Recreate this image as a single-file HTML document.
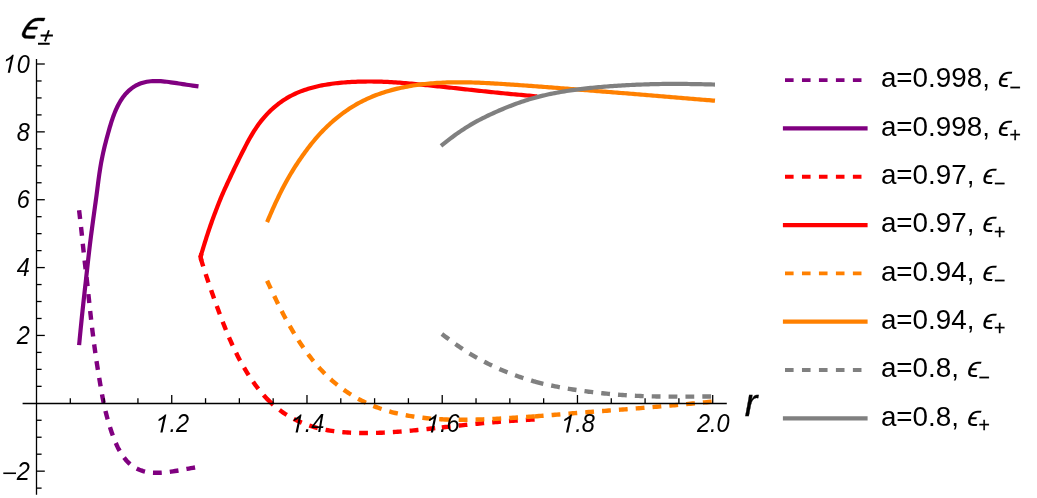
<!DOCTYPE html>
<html><head><meta charset="utf-8"><title>plot</title>
<style>
html,body{margin:0;padding:0;background:#fff;}
body{width:1037px;height:498px;overflow:hidden;font-family:"Liberation Sans",sans-serif;}
svg{display:block;will-change:transform;}
text{font-family:"Liberation Sans",sans-serif;fill:#000;}
.tk{font-size:25.0px;font-style:italic;}
.lg{font-size:27.8px;}
</style></head><body>
<svg width="1037" height="498" viewBox="0 0 1037 498">
<rect width="1037" height="498" fill="#fff"/>

<g fill="none" stroke-linejoin="round">
<path d="M79.10 210.30 L79.33 212.29 L79.57 214.29 L79.80 216.28 L80.03 218.28 L80.26 220.27 L80.49 222.27 L80.71 224.26 L80.94 226.26 L81.16 228.25 L81.38 230.25 L81.59 232.24 L81.81 234.24 L82.01 236.24 L82.22 238.23 L82.42 240.23 L82.63 242.22 L82.83 244.22 L83.04 246.22 L83.26 248.21 L83.47 250.20 L83.69 252.20 L83.91 254.19 L84.13 256.19 L84.35 258.18 L84.58 260.18 L84.80 262.17 L85.04 264.16 L85.27 266.16 L85.51 268.15 L85.75 270.14 L85.98 272.14 L86.21 274.13 L86.44 276.13 L86.66 278.12 L86.89 280.12 L87.10 282.11 L87.32 284.11 L87.53 286.10 L87.74 288.10 L87.94 290.09 L88.15 292.09 L88.36 294.09 L88.57 296.08 L88.78 298.08 L89.00 300.07 L89.21 302.07 L89.43 304.06 L89.64 306.06 L89.85 308.05 L90.07 310.05 L90.28 312.05 L90.50 314.04 L90.72 316.04 L90.95 318.03 L91.17 320.03 L91.40 322.02 L91.63 324.02 L91.87 326.01 L92.10 328.00 L92.34 330.00 L92.59 331.99 L92.84 333.98 L93.09 335.97 L93.34 337.96 L93.60 339.96 L93.85 341.95 L94.11 343.94 L94.38 345.93 L94.65 347.92 L94.92 349.90 L95.20 351.89 L95.48 353.88 L95.76 355.87 L96.05 357.86 L96.34 359.84 L96.63 361.83 L96.94 363.81 L97.24 365.79 L97.56 367.78 L97.87 369.76 L98.19 371.74 L98.51 373.73 L98.83 375.71 L99.16 377.69 L99.49 379.67 L99.82 381.65 L100.15 383.63 L100.49 385.61 L100.83 387.59 L101.17 389.57 L101.51 391.55 L101.86 393.52 L102.22 395.50 L102.59 397.47 L102.97 399.44 L103.36 401.41 L103.76 403.38 L104.18 405.34 L104.61 407.30 L105.06 409.26 L105.52 411.21 L106.01 413.16 L106.51 415.10 L107.02 417.04 L107.55 418.98 L108.10 420.91 L108.67 422.84 L109.24 424.77 L109.84 426.69 L110.44 428.61 L111.06 430.52 L111.70 432.43 L112.37 434.34 L113.05 436.23 L113.77 438.12 L114.51 440.00 L115.28 441.86 L116.09 443.72 L116.93 445.56 L117.80 447.38 L118.72 449.18 L119.69 450.95 L120.71 452.69 L121.78 454.40 L122.90 456.06 L124.08 457.68 L125.33 459.24 L126.63 460.75 L128.00 462.18 L129.44 463.54 L130.94 464.82 L132.51 466.00 L134.14 467.10 L135.83 468.09 L137.58 468.99 L139.38 469.78 L141.22 470.47 L143.11 471.07 L145.03 471.57 L146.97 471.97 L148.94 472.29 L150.93 472.53 L152.93 472.70 L154.94 472.79 L156.95 472.81 L158.97 472.78 L160.99 472.69 L163.00 472.55 L165.02 472.37 L167.03 472.15 L169.03 471.91 L171.04 471.64 L173.03 471.35 L175.03 471.04 L177.02 470.71 L179.01 470.37 L180.99 470.03 L182.97 469.67 L184.95 469.31 L186.93 468.94 L188.90 468.57 L190.88 468.21 L192.85 467.84 L194.83 467.47 L196.80 467.10" stroke="#800080" stroke-width="4.4" stroke-dasharray="8.8 8.07" stroke-dashoffset="0"/>
<path d="M79.10 345.10 L79.29 343.11 L79.49 341.11 L79.68 339.12 L79.87 337.13 L80.07 335.13 L80.26 333.14 L80.46 331.15 L80.65 329.15 L80.85 327.16 L81.05 325.17 L81.25 323.18 L81.45 321.18 L81.65 319.19 L81.85 317.20 L82.06 315.21 L82.27 313.21 L82.48 311.22 L82.69 309.23 L82.91 307.24 L83.12 305.25 L83.34 303.26 L83.56 301.27 L83.78 299.28 L84.00 297.29 L84.23 295.30 L84.45 293.31 L84.67 291.32 L84.89 289.33 L85.12 287.34 L85.34 285.35 L85.56 283.36 L85.78 281.36 L86.00 279.37 L86.22 277.38 L86.43 275.39 L86.65 273.40 L86.87 271.41 L87.09 269.42 L87.31 267.43 L87.53 265.44 L87.75 263.45 L87.97 261.46 L88.19 259.47 L88.42 257.48 L88.65 255.49 L88.88 253.50 L89.11 251.51 L89.34 249.52 L89.58 247.53 L89.82 245.54 L90.06 243.56 L90.30 241.57 L90.55 239.58 L90.80 237.59 L91.05 235.61 L91.31 233.62 L91.57 231.63 L91.83 229.65 L92.09 227.66 L92.36 225.68 L92.63 223.69 L92.90 221.71 L93.17 219.73 L93.44 217.74 L93.72 215.76 L93.99 213.78 L94.27 211.79 L94.54 209.81 L94.82 207.82 L95.09 205.84 L95.36 203.86 L95.64 201.87 L95.91 199.89 L96.17 197.90 L96.44 195.92 L96.70 193.93 L96.96 191.95 L97.22 189.96 L97.47 187.97 L97.73 185.99 L97.98 184.00 L98.24 182.01 L98.50 180.03 L98.77 178.04 L99.05 176.06 L99.33 174.08 L99.62 172.10 L99.93 170.12 L100.24 168.14 L100.57 166.16 L100.91 164.19 L101.26 162.22 L101.63 160.25 L102.01 158.29 L102.41 156.32 L102.82 154.36 L103.25 152.41 L103.69 150.45 L104.14 148.50 L104.61 146.56 L105.09 144.61 L105.58 142.67 L106.08 140.73 L106.59 138.79 L107.11 136.86 L107.63 134.92 L108.17 132.99 L108.71 131.06 L109.26 129.13 L109.81 127.20 L110.38 125.28 L110.97 123.36 L111.57 121.45 L112.20 119.54 L112.85 117.64 L113.53 115.75 L114.24 113.87 L114.99 112.00 L115.77 110.15 L116.59 108.32 L117.45 106.50 L118.36 104.71 L119.32 102.94 L120.33 101.20 L121.40 99.51 L122.53 97.85 L123.72 96.24 L124.98 94.68 L126.31 93.18 L127.70 91.75 L129.15 90.38 L130.67 89.09 L132.25 87.88 L133.89 86.76 L135.59 85.73 L137.34 84.81 L139.15 84.00 L141.00 83.29 L142.90 82.69 L144.82 82.19 L146.77 81.79 L148.75 81.48 L150.74 81.26 L152.74 81.11 L154.74 81.05 L156.75 81.04 L158.75 81.10 L160.76 81.21 L162.76 81.37 L164.76 81.56 L166.76 81.78 L168.75 82.03 L170.74 82.30 L172.73 82.58 L174.72 82.87 L176.70 83.17 L178.68 83.48 L180.67 83.79 L182.65 84.10 L184.63 84.40 L186.61 84.71 L188.59 85.00 L190.57 85.29 L192.55 85.57 L194.53 85.85 L196.52 86.13 L198.50 86.40" stroke="#800080" stroke-width="4.2"/>
<path d="M200.28 256.91 L200.87 258.81 L201.46 260.72 L202.05 262.63 L202.64 264.53 L203.24 266.44 L203.84 268.34 L204.45 270.24 L205.06 272.14 L205.68 274.04 L206.31 275.93 L206.94 277.83 L207.57 279.72 L208.21 281.61 L208.85 283.50 L209.49 285.39 L210.14 287.28 L210.79 289.16 L211.44 291.05 L212.10 292.93 L212.77 294.81 L213.43 296.69 L214.10 298.57 L214.78 300.45 L215.45 302.33 L216.13 304.21 L216.81 306.09 L217.50 307.97 L218.19 309.84 L218.88 311.72 L219.58 313.59 L220.28 315.46 L220.99 317.33 L221.70 319.20 L222.42 321.07 L223.14 322.94 L223.87 324.80 L224.61 326.66 L225.35 328.52 L226.10 330.37 L226.86 332.22 L227.63 334.07 L228.40 335.92 L229.19 337.76 L229.98 339.59 L230.79 341.43 L231.60 343.25 L232.43 345.08 L233.27 346.89 L234.12 348.70 L234.98 350.51 L235.85 352.31 L236.74 354.10 L237.65 355.89 L238.56 357.67 L239.49 359.44 L240.44 361.21 L241.40 362.96 L242.38 364.71 L243.37 366.45 L244.38 368.18 L245.40 369.90 L246.44 371.61 L247.49 373.32 L248.56 375.01 L249.65 376.69 L250.76 378.36 L251.88 380.02 L253.02 381.67 L254.17 383.31 L255.35 384.93 L256.55 386.53 L257.77 388.12 L259.00 389.69 L260.26 391.24 L261.55 392.78 L262.85 394.29 L264.18 395.79 L265.53 397.26 L266.90 398.71 L267.22 399.04" stroke="#ff0000" stroke-width="4.4" stroke-dasharray="8.8 8.07" stroke-dashoffset="-1.2"/>
<path d="M266.94 398.75 L267.22 399.04 L268.29 400.14 L269.71 401.54 L271.16 402.91 L272.63 404.26 L274.12 405.58 L275.64 406.87 L277.19 408.13 L278.75 409.36 L280.35 410.56 L281.96 411.72 L283.60 412.86 L285.26 413.96 L286.95 415.03 L288.65 416.06 L290.37 417.07 L292.12 418.04 L293.88 418.97 L295.66 419.88 L297.45 420.75 L299.26 421.59 L301.09 422.39 L302.93 423.16 L304.79 423.90 L306.66 424.61 L308.54 425.28 L310.43 425.92 L312.33 426.53 L314.24 427.10 L316.17 427.65 L318.10 428.16 L320.04 428.64 L321.98 429.09 L323.94 429.51 L325.90 429.90 L327.86 430.26 L329.84 430.60 L331.81 430.91 L333.79 431.19 L335.78 431.45 L337.76 431.68 L339.75 431.89 L341.75 432.08 L343.74 432.25 L345.74 432.40 L347.74 432.53 L349.74 432.65 L351.74 432.75 L353.74 432.83 L355.74 432.90 L357.74 432.96 L359.75 433.00 L361.75 433.03 L363.75 433.04 L365.76 433.05 L367.76 433.04 L369.76 433.02 L371.76 432.99 L373.76 432.95 L375.77 432.90 L377.77 432.84 L379.77 432.77 L381.77 432.69 L383.77 432.60 L385.76 432.50 L387.76 432.39 L389.76 432.28 L391.76 432.15 L393.75 432.02 L395.75 431.88 L397.74 431.74 L399.74 431.59 L401.73 431.43 L403.73 431.27 L405.72 431.10 L407.71 430.93 L409.71 430.75 L411.70 430.57 L413.69 430.38 L415.68 430.19 L417.67 430.00 L419.66 429.80 L421.66 429.60 L423.65 429.40 L425.64 429.19 L427.62 428.99 L429.61 428.77 L431.60 428.56 L433.59 428.35 L435.58 428.13 L437.57 427.91 L439.56 427.70 L441.55 427.48 L442.22 427.40" stroke="#ff0000" stroke-width="4.4" stroke-dasharray="8.8 8.07" stroke-dashoffset="0"/>
<path d="M441.82 427.45 L442.22 427.40 L443.53 427.26 L445.52 427.04 L447.51 426.82 L449.50 426.61 L451.49 426.39 L453.48 426.18 L455.47 425.96 L457.46 425.75 L459.45 425.54 L461.43 425.33 L463.42 425.12 L465.41 424.92 L467.40 424.71 L469.39 424.51 L471.38 424.31 L473.38 424.11 L475.37 423.92 L477.36 423.73 L479.35 423.53 L481.34 423.35 L483.33 423.16 L485.32 422.98 L487.32 422.80 L489.31 422.62 L491.30 422.45 L493.29 422.28 L495.29 422.11 L497.28 421.95 L499.27 421.79 L501.27 421.63 L503.26 421.48 L505.26 421.33 L507.25 421.18 L509.25 421.04 L511.24 420.90 L513.24 420.76 L515.23 420.63 L517.23 420.50 L519.23 420.37 L521.22 420.24 L523.22 420.12 L525.22 420.00 L527.21 419.87 L529.21 419.75 L531.21 419.63 L533.20 419.51 L535.20 419.40" stroke="#ff0000" stroke-width="4.4" stroke-dasharray="8.8 8.07" stroke-dashoffset="0"/>
<path d="M201.46 260.72 L200.58 257.01 L201.45 253.66" stroke="#ff0000" stroke-width="4.4" stroke-linejoin="miter" stroke-miterlimit="10"/>
<path d="M200.30 257.50 L200.87 255.58 L201.45 253.66 L202.03 251.75 L202.61 249.83 L203.20 247.91 L203.78 246.00 L204.37 244.09 L204.97 242.17 L205.57 240.26 L206.17 238.36 L206.78 236.45 L207.40 234.54 L208.02 232.64 L208.65 230.74 L209.29 228.85 L209.94 226.95 L210.60 225.06 L211.26 223.18 L211.93 221.29 L212.61 219.41 L213.30 217.53 L213.99 215.65 L214.69 213.78 L215.39 211.91 L216.10 210.04 L216.82 208.17 L217.54 206.30 L218.26 204.44 L219.00 202.58 L219.75 200.73 L220.50 198.88 L221.27 197.03 L222.05 195.19 L222.85 193.36 L223.65 191.53 L224.47 189.71 L225.29 187.88 L226.12 186.06 L226.96 184.25 L227.80 182.43 L228.64 180.62 L229.49 178.80 L230.34 176.99 L231.20 175.18 L232.05 173.37 L232.91 171.56 L233.77 169.75 L234.64 167.95 L235.51 166.14 L236.39 164.34 L237.26 162.53 L238.15 160.73 L239.04 158.93 L239.93 157.14 L240.82 155.34 L241.73 153.55 L242.63 151.76 L243.54 149.97 L244.46 148.18 L245.38 146.40 L246.31 144.62 L247.25 142.85 L248.21 141.08 L249.17 139.32 L250.16 137.57 L251.15 135.84 L252.17 134.11 L253.21 132.40 L254.27 130.70 L255.35 129.01 L256.46 127.35 L257.60 125.70 L258.77 124.08 L259.96 122.47 L261.18 120.89 L262.44 119.33 L263.72 117.80 L265.03 116.29 L266.37 114.81 L267.74 113.36 L269.14 111.94 L270.57 110.54 L272.02 109.18 L273.51 107.84 L275.02 106.54 L276.56 105.28 L278.13 104.04 L279.72 102.85 L281.34 101.68 L282.99 100.56 L284.66 99.47 L286.35 98.42 L288.07 97.41 L289.81 96.44 L291.58 95.51 L293.36 94.61 L295.16 93.75 L296.98 92.93 L298.82 92.15 L300.67 91.41 L302.54 90.70 L304.43 90.03 L306.32 89.39 L308.23 88.79 L310.15 88.22 L312.08 87.68 L314.02 87.17 L315.96 86.69 L317.92 86.24 L319.88 85.82 L321.84 85.42 L323.81 85.05 L325.79 84.70 L327.77 84.37 L329.75 84.07 L331.74 83.79 L333.73 83.53 L335.72 83.29 L337.71 83.06 L339.71 82.86 L341.71 82.67 L343.70 82.50 L345.70 82.34 L347.70 82.20 L349.70 82.08 L351.71 81.97 L353.71 81.87 L355.71 81.78 L357.71 81.71 L359.72 81.65 L361.72 81.60 L363.72 81.56 L365.72 81.54 L367.73 81.52 L369.73 81.52 L371.73 81.52 L373.74 81.54 L375.74 81.57 L377.74 81.61 L379.74 81.66 L381.74 81.72 L383.74 81.79 L385.74 81.87 L387.74 81.96 L389.74 82.06 L391.74 82.17 L393.74 82.29 L395.74 82.42 L397.73 82.55 L399.73 82.70 L401.73 82.85 L403.72 83.01 L405.72 83.17 L407.71 83.35 L409.71 83.52 L411.70 83.70 L413.70 83.89 L415.69 84.08 L417.68 84.27 L419.68 84.47 L421.67 84.66 L423.66 84.86 L425.65 85.06 L427.65 85.26 L429.64 85.47 L431.63 85.67 L433.62 85.88 L435.61 86.09 L437.61 86.29 L439.60 86.50 L441.59 86.71 L443.58 86.93 L445.57 87.14 L447.56 87.35 L449.55 87.56 L451.54 87.78 L453.53 87.99 L455.52 88.21 L457.52 88.42 L459.51 88.64 L461.50 88.86 L463.49 89.07 L465.48 89.29 L467.47 89.51 L469.46 89.72 L471.45 89.94 L473.44 90.15 L475.43 90.37 L477.42 90.59 L479.41 90.80 L481.40 91.01 L483.39 91.23 L485.38 91.44 L487.37 91.65 L489.37 91.86 L491.36 92.07 L493.35 92.27 L495.34 92.48 L497.33 92.68 L499.32 92.88 L501.32 93.08 L503.31 93.27 L505.30 93.47 L507.29 93.66 L509.29 93.85 L511.28 94.04 L513.27 94.22 L515.27 94.41 L517.26 94.59 L519.25 94.78 L521.25 94.96 L523.24 95.14 L525.24 95.32 L527.23 95.50 L529.22 95.68 L531.22 95.86 L533.21 96.04 L535.21 96.22 L537.20 96.40" stroke="#ff0000" stroke-width="4.2"/>
<path d="M267.08 280.71 L267.92 282.53 L268.76 284.34 L269.61 286.16 L270.45 287.97 L271.30 289.79 L272.15 291.60 L273.01 293.41 L273.86 295.22 L274.73 297.03 L275.60 298.83 L276.47 300.63 L277.35 302.43 L278.24 304.22 L279.13 306.02 L280.03 307.80 L280.93 309.59 L281.84 311.37 L282.76 313.15 L283.69 314.92 L284.63 316.69 L285.57 318.46 L286.53 320.22 L287.49 321.97 L288.46 323.72 L289.45 325.46 L290.44 327.20 L291.44 328.93 L292.45 330.66 L293.48 332.38 L294.51 334.09 L295.56 335.80 L296.62 337.49 L297.69 339.18 L298.77 340.87 L299.87 342.54 L300.98 344.21 L302.10 345.86 L303.23 347.51 L304.38 349.15 L305.55 350.78 L306.72 352.39 L307.91 354.00 L309.12 355.60 L310.34 357.18 L311.57 358.75 L312.82 360.31 L314.09 361.86 L315.37 363.39 L316.67 364.91 L317.99 366.42 L319.32 367.91 L320.67 369.38 L322.04 370.83 L323.42 372.27 L324.83 373.70 L326.24 375.10 L327.68 376.49 L329.14 377.86 L330.61 379.21 L332.10 380.54 L333.60 381.85 L335.12 383.14 L336.66 384.40 L338.22 385.65 L339.80 386.88 L341.39 388.08 L343.00 389.26 L344.62 390.41 L346.26 391.55 L347.92 392.66 L349.59 393.74 L351.28 394.80 L352.98 395.84 L354.70 396.85 L356.43 397.84 L358.18 398.81 L359.94 399.75 L361.71 400.66 L363.50 401.55 L365.30 402.42 L367.11 403.26 L368.93 404.08 L370.76 404.88 L372.60 405.65 L374.45 406.39 L376.31 407.11 L378.19 407.81 L380.07 408.48 L381.96 409.13 L383.85 409.75 L385.76 410.35 L387.67 410.93 L389.59 411.48 L391.52 412.01 L393.46 412.51 L395.40 413.00 L397.34 413.46 L399.29 413.91 L401.25 414.33 L403.21 414.73 L405.18 415.11 L407.14 415.48 L409.12 415.82 L411.09 416.15 L413.07 416.46 L415.05 416.76 L417.04 417.04 L419.02 417.30 L421.01 417.55 L423.00 417.78 L425.00 418.00 L426.99 418.20 L428.98 418.39 L430.98 418.57 L432.98 418.73 L434.98 418.88 L436.98 419.01 L438.98 419.14 L440.98 419.25 L442.22 419.31" stroke="#ff8000" stroke-width="4.4" stroke-dasharray="8.8 8.07" stroke-dashoffset="0"/>
<path d="M441.82 419.29 L442.22 419.31 L442.98 419.35 L444.98 419.44 L446.98 419.51 L448.98 419.58 L450.99 419.64 L452.99 419.68 L454.99 419.72 L457.00 419.74 L459.00 419.76 L461.00 419.77 L463.00 419.77 L465.01 419.76 L467.01 419.75 L469.01 419.72 L471.02 419.69 L473.02 419.65 L475.02 419.61 L477.02 419.56 L479.02 419.50 L481.03 419.44 L483.03 419.37 L485.03 419.29 L487.03 419.21 L489.03 419.13 L491.03 419.04 L493.03 418.95 L495.03 418.85 L497.03 418.74 L499.03 418.64 L501.03 418.53 L503.03 418.42 L505.03 418.30 L507.02 418.18 L509.02 418.06 L511.02 417.94 L513.02 417.82 L515.02 417.69 L517.01 417.57 L519.01 417.44 L521.01 417.31 L523.01 417.17 L525.00 417.04 L527.00 416.91 L529.00 416.77 L530.99 416.63 L532.99 416.49 L534.99 416.35 L535.20 416.33" stroke="#ff8000" stroke-width="4.4" stroke-dasharray="8.8 8.07" stroke-dashoffset="0"/>
<path d="M534.80 416.36 L535.20 416.33 L536.98 416.20 L538.98 416.05 L540.97 415.90 L542.97 415.75 L544.96 415.60 L546.96 415.44 L548.95 415.28 L550.95 415.12 L552.94 414.96 L554.94 414.80 L556.93 414.63 L558.93 414.47 L560.92 414.30 L562.92 414.14 L564.91 413.97 L566.91 413.81 L568.90 413.64 L570.90 413.48 L572.89 413.31 L574.89 413.15 L576.88 412.99 L578.88 412.83 L580.87 412.67 L582.87 412.52 L584.86 412.36 L586.86 412.21 L588.85 412.05 L590.85 411.90 L592.85 411.75 L594.84 411.60 L596.84 411.44 L598.83 411.29 L600.83 411.14 L602.83 411.00 L604.82 410.85 L606.82 410.70 L608.81 410.55 L610.81 410.40 L612.80 410.25 L614.80 410.10 L616.80 409.95 L618.79 409.80 L620.79 409.65 L622.78 409.50 L624.78 409.34 L626.77 409.19 L628.77 409.03 L630.76 408.87 L632.76 408.72 L634.75 408.56 L636.75 408.40 L638.74 408.24 L640.74 408.07 L642.73 407.91 L644.73 407.75 L646.72 407.58 L648.72 407.42 L650.71 407.25 L652.71 407.08 L654.70 406.92 L656.70 406.75 L658.69 406.58 L660.68 406.41 L662.68 406.24 L664.67 406.06 L666.67 405.89 L668.66 405.72 L670.65 405.54 L672.65 405.36 L674.64 405.19 L676.63 405.01 L678.63 404.83 L680.62 404.65 L682.61 404.46 L684.61 404.28 L686.60 404.09 L688.59 403.91 L690.58 403.72 L692.58 403.53 L694.57 403.34 L696.56 403.15 L698.55 402.96 L700.55 402.77 L702.54 402.58 L704.53 402.38 L706.52 402.19 L708.52 401.99 L710.51 401.80 L712.50 401.61" stroke="#ff8000" stroke-width="4.4" stroke-dasharray="8.8 8.07" stroke-dashoffset="0"/>
<path d="M267.09 222.09 L267.88 220.25 L268.67 218.41 L269.46 216.57 L270.26 214.73 L271.06 212.89 L271.86 211.05 L272.68 209.22 L273.50 207.39 L274.32 205.56 L275.16 203.74 L276.00 201.92 L276.86 200.11 L277.72 198.30 L278.59 196.49 L279.47 194.69 L280.36 192.89 L281.25 191.10 L282.16 189.31 L283.08 187.53 L284.01 185.76 L284.96 183.99 L285.91 182.23 L286.88 180.47 L287.86 178.72 L288.86 176.98 L289.87 175.25 L290.89 173.53 L291.92 171.81 L292.97 170.10 L294.03 168.40 L295.10 166.70 L296.19 165.01 L297.29 163.33 L298.40 161.66 L299.52 160.00 L300.66 158.34 L301.80 156.69 L302.96 155.05 L304.13 153.42 L305.31 151.80 L306.51 150.19 L307.71 148.58 L308.93 146.98 L310.16 145.40 L311.40 143.82 L312.66 142.26 L313.93 140.71 L315.22 139.17 L316.52 137.65 L317.84 136.14 L319.18 134.65 L320.53 133.17 L321.90 131.71 L323.30 130.27 L324.70 128.85 L326.13 127.44 L327.58 126.06 L329.04 124.69 L330.51 123.33 L332.01 122.00 L333.52 120.68 L335.05 119.38 L336.59 118.10 L338.15 116.85 L339.72 115.61 L341.31 114.39 L342.92 113.19 L344.54 112.01 L346.17 110.86 L347.82 109.73 L349.49 108.62 L351.17 107.53 L352.87 106.47 L354.58 105.44 L356.31 104.43 L358.05 103.44 L359.81 102.48 L361.57 101.55 L363.36 100.65 L365.16 99.77 L366.97 98.92 L368.79 98.10 L370.62 97.30 L372.47 96.53 L374.33 95.78 L376.20 95.06 L378.07 94.37 L379.96 93.69 L381.86 93.05 L383.76 92.42 L385.67 91.82 L387.59 91.24 L389.52 90.68 L391.45 90.14 L393.39 89.62 L395.33 89.12 L397.28 88.65 L399.24 88.19 L401.20 87.76 L403.16 87.34 L405.13 86.95 L407.10 86.57 L409.07 86.21 L411.05 85.87 L413.03 85.55 L415.01 85.25 L417.00 84.96 L418.99 84.69 L420.98 84.44 L422.97 84.20 L424.97 83.98 L426.96 83.78 L428.96 83.58 L430.96 83.41 L432.96 83.24 L434.96 83.09 L436.96 82.96 L438.96 82.84 L440.97 82.73 L442.97 82.63 L444.97 82.55 L446.98 82.47 L448.98 82.41 L450.99 82.36 L452.99 82.33 L455.00 82.30 L457.01 82.28 L459.01 82.28 L461.02 82.28 L463.02 82.29 L465.03 82.32 L467.03 82.35 L469.04 82.39 L471.04 82.44 L473.05 82.49 L475.05 82.56 L477.06 82.63 L479.06 82.70 L481.07 82.79 L483.07 82.88 L485.07 82.98 L487.07 83.08 L489.08 83.18 L491.08 83.30 L493.08 83.41 L495.08 83.53 L497.09 83.65 L499.09 83.77 L501.09 83.90 L503.09 84.02 L505.09 84.15 L507.09 84.28 L509.10 84.42 L511.10 84.55 L513.10 84.69 L515.10 84.82 L517.10 84.96 L519.10 85.10 L521.10 85.24 L523.10 85.38 L525.10 85.52 L527.10 85.67 L529.10 85.81 L531.10 85.96 L533.10 86.10 L535.10 86.25 L537.10 86.40 L539.10 86.54 L541.10 86.69 L543.10 86.84 L545.10 86.99 L547.10 87.14 L549.10 87.29 L551.10 87.45 L553.10 87.60 L555.10 87.75 L557.10 87.91 L559.10 88.06 L561.10 88.22 L563.10 88.37 L565.10 88.53 L567.10 88.69 L569.09 88.84 L571.09 89.00 L573.09 89.16 L575.09 89.32 L577.09 89.48 L579.09 89.64 L581.09 89.80 L583.09 89.96 L585.09 90.12 L587.08 90.28 L589.08 90.44 L591.08 90.60 L593.08 90.76 L595.08 90.92 L597.08 91.08 L599.08 91.24 L601.08 91.40 L603.08 91.55 L605.08 91.71 L607.07 91.87 L609.07 92.02 L611.07 92.18 L613.07 92.34 L615.07 92.50 L617.07 92.65 L619.07 92.81 L621.07 92.97 L623.07 93.13 L625.07 93.28 L627.07 93.44 L629.06 93.60 L631.06 93.76 L633.06 93.92 L635.06 94.08 L637.06 94.25 L639.06 94.41 L641.06 94.57 L643.06 94.73 L645.05 94.90 L647.05 95.06 L649.05 95.22 L651.05 95.39 L653.05 95.55 L655.05 95.72 L657.05 95.89 L659.04 96.05 L661.04 96.22 L663.04 96.39 L665.04 96.55 L667.04 96.72 L669.04 96.89 L671.03 97.06 L673.03 97.22 L675.03 97.39 L677.03 97.56 L679.03 97.73 L681.03 97.90 L683.02 98.06 L685.02 98.23 L687.02 98.40 L689.02 98.57 L691.02 98.73 L693.02 98.90 L695.01 99.06 L697.01 99.23 L699.01 99.40 L701.01 99.56 L703.01 99.72 L705.01 99.89 L707.01 100.05 L709.00 100.21 L711.00 100.38 L713.00 100.54 L715.00 100.70" stroke="#ff8000" stroke-width="4.2"/>
<path d="M441.89 334.01 L443.49 335.22 L445.09 336.42 L446.68 337.62 L448.29 338.82 L449.89 340.01 L451.50 341.20 L453.12 342.38 L454.74 343.55 L456.36 344.71 L458.00 345.85 L459.65 346.99 L461.30 348.11 L462.96 349.22 L464.63 350.31 L466.31 351.39 L468.00 352.46 L469.70 353.51 L471.41 354.55 L473.13 355.57 L474.85 356.57 L476.59 357.57 L478.33 358.54 L480.08 359.51 L481.84 360.45 L483.61 361.39 L485.39 362.31 L487.17 363.21 L488.96 364.10 L490.76 364.98 L492.57 365.84 L494.38 366.69 L496.20 367.52 L498.03 368.34 L499.86 369.15 L501.70 369.94 L503.54 370.72 L505.39 371.49 L507.24 372.24 L509.10 372.98 L510.97 373.71 L512.84 374.42 L514.71 375.12 L516.59 375.80 L518.48 376.47 L520.37 377.13 L522.26 377.77 L524.16 378.39 L526.06 379.00 L527.97 379.60 L529.89 380.17 L531.80 380.73 L533.73 381.28 L535.20 381.69" stroke="#808080" stroke-width="4.4" stroke-dasharray="8.8 8.07" stroke-dashoffset="0"/>
<path d="M534.81 381.58 L535.20 381.69 L535.65 381.81 L537.58 382.33 L539.52 382.82 L541.46 383.31 L543.40 383.78 L545.35 384.23 L547.30 384.67 L549.25 385.10 L551.20 385.52 L553.16 385.92 L555.12 386.32 L557.08 386.70 L559.05 387.08 L561.01 387.44 L562.98 387.80 L564.95 388.15 L566.92 388.49 L568.89 388.82 L570.86 389.15 L572.84 389.46 L574.81 389.77 L576.79 390.07 L578.76 390.36 L580.74 390.64 L582.72 390.92 L584.70 391.18 L586.68 391.44 L588.67 391.70 L590.65 391.94 L592.64 392.18 L594.62 392.41 L596.61 392.64 L598.59 392.85 L600.58 393.06 L602.57 393.27 L604.56 393.47 L606.55 393.67 L608.54 393.86 L610.53 394.04 L612.52 394.22 L614.52 394.39 L616.51 394.56 L618.50 394.72 L620.50 394.87 L622.49 395.01 L624.49 395.15 L626.48 395.28 L628.48 395.41 L630.48 395.52 L632.48 395.63 L634.47 395.74 L636.47 395.83 L638.47 395.92 L640.47 396.00 L642.47 396.08 L644.47 396.14 L646.47 396.21 L648.47 396.26 L650.47 396.32 L652.47 396.36 L654.47 396.41 L656.47 396.45 L658.47 396.48 L660.47 396.51 L662.47 396.54 L664.48 396.57 L666.48 396.59 L668.48 396.61 L670.48 396.62 L672.48 396.64 L674.48 396.65 L676.48 396.66 L678.48 396.67 L680.48 396.67 L682.49 396.67 L684.49 396.67 L686.49 396.66 L688.49 396.66 L690.49 396.64 L692.49 396.63 L694.49 396.62 L696.49 396.60 L698.49 396.58 L700.49 396.56 L702.50 396.53 L704.50 396.51 L706.50 396.48 L708.50 396.46 L710.50 396.43 L712.50 396.40" stroke="#808080" stroke-width="4.4" stroke-dasharray="8.8 8.07" stroke-dashoffset="0"/>
<path d="M440.99 145.78 L442.57 144.54 L444.16 143.31 L445.75 142.07 L447.34 140.84 L448.94 139.62 L450.54 138.41 L452.15 137.20 L453.76 136.01 L455.39 134.82 L457.02 133.66 L458.66 132.50 L460.31 131.36 L461.98 130.24 L463.65 129.14 L465.33 128.05 L467.03 126.98 L468.73 125.93 L470.45 124.89 L472.18 123.88 L473.92 122.88 L475.67 121.91 L477.43 120.94 L479.20 120.00 L480.98 119.07 L482.77 118.16 L484.57 117.26 L486.37 116.38 L488.18 115.51 L490.00 114.65 L491.83 113.81 L493.66 112.98 L495.49 112.15 L497.33 111.34 L499.18 110.53 L501.03 109.74 L502.88 108.96 L504.74 108.18 L506.60 107.42 L508.47 106.67 L510.34 105.93 L512.21 105.21 L514.09 104.49 L515.98 103.80 L517.87 103.11 L519.76 102.44 L521.66 101.78 L523.57 101.14 L525.48 100.52 L527.39 99.91 L529.31 99.32 L531.24 98.75 L533.17 98.19 L535.10 97.65 L537.04 97.13 L538.98 96.62 L540.93 96.13 L542.88 95.65 L544.83 95.19 L546.79 94.74 L548.76 94.31 L550.72 93.89 L552.69 93.49 L554.66 93.10 L556.64 92.73 L558.61 92.36 L560.59 92.01 L562.57 91.67 L564.56 91.34 L566.54 91.02 L568.53 90.71 L570.52 90.42 L572.51 90.13 L574.50 89.85 L576.49 89.58 L578.49 89.32 L580.48 89.07 L582.48 88.82 L584.48 88.59 L586.48 88.36 L588.48 88.14 L590.48 87.93 L592.48 87.73 L594.48 87.53 L596.48 87.34 L598.48 87.16 L600.49 86.99 L602.49 86.82 L604.50 86.66 L606.50 86.50 L608.51 86.35 L610.51 86.21 L612.52 86.07 L614.52 85.93 L616.53 85.80 L618.54 85.67 L620.55 85.55 L622.55 85.44 L624.56 85.32 L626.57 85.21 L628.58 85.11 L630.59 85.00 L632.59 84.91 L634.60 84.81 L636.61 84.72 L638.62 84.64 L640.63 84.56 L642.64 84.48 L644.65 84.41 L646.66 84.34 L648.67 84.28 L650.68 84.22 L652.68 84.16 L654.69 84.11 L656.70 84.07 L658.71 84.03 L660.72 84.00 L662.73 83.97 L664.74 83.94 L666.75 83.92 L668.76 83.90 L670.78 83.89 L672.79 83.89 L674.80 83.89 L676.81 83.89 L678.82 83.90 L680.83 83.91 L682.84 83.93 L684.85 83.95 L686.86 83.97 L688.87 84.00 L690.88 84.03 L692.89 84.06 L694.90 84.10 L696.91 84.13 L698.92 84.17 L700.93 84.22 L702.94 84.26 L704.95 84.31 L706.96 84.35 L708.97 84.40 L710.98 84.45 L712.99 84.50 L715.00 84.55" stroke="#808080" stroke-width="4.2"/>
</g>
<g stroke="#000" stroke-width="1.3" fill="none">
<line x1="22.6" y1="403.5" x2="726.8" y2="403.5"/>
<line x1="36.50" y1="59.1" x2="36.50" y2="494.7"/>
<line x1="70.31" y1="403.30" x2="70.31" y2="398.20"/>
<line x1="104.12" y1="403.30" x2="104.12" y2="398.20"/>
<line x1="137.93" y1="403.30" x2="137.93" y2="398.20"/>
<line x1="171.74" y1="403.30" x2="171.74" y2="395.00"/>
<line x1="205.55" y1="403.30" x2="205.55" y2="398.20"/>
<line x1="239.36" y1="403.30" x2="239.36" y2="398.20"/>
<line x1="273.17" y1="403.30" x2="273.17" y2="398.20"/>
<line x1="306.98" y1="403.30" x2="306.98" y2="395.00"/>
<line x1="340.79" y1="403.30" x2="340.79" y2="398.20"/>
<line x1="374.60" y1="403.30" x2="374.60" y2="398.20"/>
<line x1="408.41" y1="403.30" x2="408.41" y2="398.20"/>
<line x1="442.22" y1="403.30" x2="442.22" y2="395.00"/>
<line x1="476.03" y1="403.30" x2="476.03" y2="398.20"/>
<line x1="509.84" y1="403.30" x2="509.84" y2="398.20"/>
<line x1="543.65" y1="403.30" x2="543.65" y2="398.20"/>
<line x1="577.46" y1="403.30" x2="577.46" y2="395.00"/>
<line x1="611.27" y1="403.30" x2="611.27" y2="398.20"/>
<line x1="645.08" y1="403.30" x2="645.08" y2="398.20"/>
<line x1="678.89" y1="403.30" x2="678.89" y2="398.20"/>
<line x1="712.70" y1="403.30" x2="712.70" y2="395.00"/>
<line x1="36.50" y1="488.12" x2="41.60" y2="488.12"/>
<line x1="36.50" y1="471.16" x2="44.80" y2="471.16"/>
<line x1="36.50" y1="454.19" x2="41.60" y2="454.19"/>
<line x1="36.50" y1="437.23" x2="41.60" y2="437.23"/>
<line x1="36.50" y1="420.26" x2="41.60" y2="420.26"/>
<line x1="36.50" y1="386.34" x2="41.60" y2="386.34"/>
<line x1="36.50" y1="369.37" x2="41.60" y2="369.37"/>
<line x1="36.50" y1="352.41" x2="41.60" y2="352.41"/>
<line x1="36.50" y1="335.44" x2="44.80" y2="335.44"/>
<line x1="36.50" y1="318.48" x2="41.60" y2="318.48"/>
<line x1="36.50" y1="301.51" x2="41.60" y2="301.51"/>
<line x1="36.50" y1="284.55" x2="41.60" y2="284.55"/>
<line x1="36.50" y1="267.58" x2="44.80" y2="267.58"/>
<line x1="36.50" y1="250.62" x2="41.60" y2="250.62"/>
<line x1="36.50" y1="233.65" x2="41.60" y2="233.65"/>
<line x1="36.50" y1="216.69" x2="41.60" y2="216.69"/>
<line x1="36.50" y1="199.72" x2="44.80" y2="199.72"/>
<line x1="36.50" y1="182.76" x2="41.60" y2="182.76"/>
<line x1="36.50" y1="165.79" x2="41.60" y2="165.79"/>
<line x1="36.50" y1="148.83" x2="41.60" y2="148.83"/>
<line x1="36.50" y1="131.86" x2="44.80" y2="131.86"/>
<line x1="36.50" y1="114.90" x2="41.60" y2="114.90"/>
<line x1="36.50" y1="97.93" x2="41.60" y2="97.93"/>
<line x1="36.50" y1="80.97" x2="41.60" y2="80.97"/>
<line x1="36.50" y1="64.00" x2="44.80" y2="64.00"/>
</g>
<g transform="translate(155.55,432.40) scale(0.94,1)"><path transform="translate(-2.50,0) scale(1.0638,1) skewX(-12) scale(0.01221)" d="M763 0H583V-1147Q518 -1085 412.5 -1023Q307 -961 223 -930V-1104Q374 -1175 487 -1276Q600 -1377 647 -1472H763Z"/><text class="tk" x="14.76" y="0">.2</text></g>
<g transform="translate(290.79,432.40) scale(0.94,1)"><path transform="translate(-2.50,0) scale(1.0638,1) skewX(-12) scale(0.01221)" d="M763 0H583V-1147Q518 -1085 412.5 -1023Q307 -961 223 -930V-1104Q374 -1175 487 -1276Q600 -1377 647 -1472H763Z"/><text class="tk" x="14.76" y="0">.4</text></g>
<g transform="translate(426.03,432.40) scale(0.94,1)"><path transform="translate(-2.50,0) scale(1.0638,1) skewX(-12) scale(0.01221)" d="M763 0H583V-1147Q518 -1085 412.5 -1023Q307 -961 223 -930V-1104Q374 -1175 487 -1276Q600 -1377 647 -1472H763Z"/><text class="tk" x="14.76" y="0">.6</text></g>
<g transform="translate(561.27,432.40) scale(0.94,1)"><path transform="translate(-2.50,0) scale(1.0638,1) skewX(-12) scale(0.01221)" d="M763 0H583V-1147Q518 -1085 412.5 -1023Q307 -961 223 -930V-1104Q374 -1175 487 -1276Q600 -1377 647 -1472H763Z"/><text class="tk" x="14.76" y="0">.8</text></g>
<g transform="translate(696.92,432.40) scale(0.94,1)"><text class="tk" x="0.00" y="0">2.0</text></g>
<g transform="translate(16.83,479.91) scale(0.94,1)"><text class="tk" x="0.00" y="0">2</text></g>
<line x1="3.3" y1="473.26" x2="16.0" y2="473.26" stroke="#000" stroke-width="1.6"/>
<g transform="translate(16.83,344.19) scale(0.94,1)"><text class="tk" x="0.00" y="0">2</text></g>
<g transform="translate(16.83,276.33) scale(0.94,1)"><text class="tk" x="0.00" y="0">4</text></g>
<g transform="translate(16.83,208.47) scale(0.94,1)"><text class="tk" x="0.00" y="0">6</text></g>
<g transform="translate(16.83,140.61) scale(0.94,1)"><text class="tk" x="0.00" y="0">8</text></g>
<g transform="translate(2.96,72.75) scale(0.94,1)"><path transform="translate(-2.50,0) scale(1.0638,1) skewX(-12) scale(0.01221)" d="M763 0H583V-1147Q518 -1085 412.5 -1023Q307 -961 223 -930V-1104Q374 -1175 487 -1276Q600 -1377 647 -1472H763Z"/><text class="tk" x="14.76" y="0">0</text></g>
<text x="744.8" y="416.2" font-size="38" font-style="italic" stroke="#000" stroke-width="0.35">r</text>
<path d="M45.05 18.14 C43.82 18.13 39.69 17.89 37.68 18.07 C35.67 18.25 34.49 18.49 32.98 19.23 C31.47 19.96 29.97 21.09 28.64 22.48 C27.32 23.86 26.06 25.85 25.03 27.53 C24.01 29.22 22.98 31.33 22.50 32.59 C22.02 33.86 22.02 34.34 22.14 35.12 C22.26 35.90 22.56 36.75 23.23 37.29 C23.89 37.83 24.25 38.18 26.12 38.37 C27.98 38.57 33.04 38.43 34.42 38.45 L35.36 35.70 C34.12 35.70 29.52 35.82 27.92 35.70 C26.32 35.58 26.18 35.37 25.75 34.98 C25.33 34.58 25.27 34.07 25.39 33.32 C25.51 32.56 26.12 31.09 26.48 30.42 C26.84 29.76 27.38 29.52 27.56 29.34 L36.95 29.34 L37.68 27.03 L28.64 27.03 L28.64 27.03 C29.01 26.51 29.91 24.84 30.81 23.92 C31.72 23.01 32.80 22.08 34.06 21.54 C35.33 21.00 36.77 20.75 38.40 20.67 C40.02 20.59 42.91 20.97 43.82 21.03 Z" fill="#000" stroke="#000" stroke-width="0.45" stroke-linejoin="round"/>
<path d="M40.6 35.5 L52.9 35.5 M48.9 30.3 L44.9 41.4 M38.0 43.8 L49.7 43.8" stroke="#000" stroke-width="1.9" fill="none"/>
<line x1="785" y1="80.10" x2="862" y2="80.10" stroke="#800080" stroke-width="3.8" stroke-dasharray="8.6 8.37"/>
<text class="lg" x="880.9" y="87.40" xml:space="preserve">a=0.998, </text>
<text transform="translate(997.31,87.40) skewX(-7)" font-size="29" font-style="italic">ϵ</text>
<text x="1009.50" y="93.60" font-size="19.5" stroke="#000" stroke-width="0.3">−</text>
<line x1="782.9" y1="128.42" x2="867.6" y2="128.42" stroke="#800080" stroke-width="4.2"/>
<text class="lg" x="880.9" y="135.72" xml:space="preserve">a=0.998, </text>
<text transform="translate(997.31,135.72) skewX(-7)" font-size="29" font-style="italic">ϵ</text>
<text x="1009.50" y="141.92" font-size="19.5" stroke="#000" stroke-width="0.3">+</text>
<line x1="785" y1="176.74" x2="862" y2="176.74" stroke="#ff0000" stroke-width="3.8" stroke-dasharray="8.6 8.37"/>
<text class="lg" x="880.9" y="184.04" xml:space="preserve">a=0.97, </text>
<text transform="translate(981.85,184.04) skewX(-7)" font-size="29" font-style="italic">ϵ</text>
<text x="994.04" y="190.24" font-size="19.5" stroke="#000" stroke-width="0.3">−</text>
<line x1="782.9" y1="225.06" x2="867.6" y2="225.06" stroke="#ff0000" stroke-width="4.2"/>
<text class="lg" x="880.9" y="232.36" xml:space="preserve">a=0.97, </text>
<text transform="translate(981.85,232.36) skewX(-7)" font-size="29" font-style="italic">ϵ</text>
<text x="994.04" y="238.56" font-size="19.5" stroke="#000" stroke-width="0.3">+</text>
<line x1="785" y1="273.38" x2="862" y2="273.38" stroke="#ff8000" stroke-width="3.8" stroke-dasharray="8.6 8.37"/>
<text class="lg" x="880.9" y="280.68" xml:space="preserve">a=0.94, </text>
<text transform="translate(981.85,280.68) skewX(-7)" font-size="29" font-style="italic">ϵ</text>
<text x="994.04" y="286.88" font-size="19.5" stroke="#000" stroke-width="0.3">−</text>
<line x1="782.9" y1="321.70" x2="867.6" y2="321.70" stroke="#ff8000" stroke-width="4.2"/>
<text class="lg" x="880.9" y="329.00" xml:space="preserve">a=0.94, </text>
<text transform="translate(981.85,329.00) skewX(-7)" font-size="29" font-style="italic">ϵ</text>
<text x="994.04" y="335.20" font-size="19.5" stroke="#000" stroke-width="0.3">+</text>
<line x1="785" y1="370.02" x2="862" y2="370.02" stroke="#808080" stroke-width="3.8" stroke-dasharray="8.6 8.37"/>
<text class="lg" x="880.9" y="377.32" xml:space="preserve">a=0.8, </text>
<text transform="translate(966.39,377.32) skewX(-7)" font-size="29" font-style="italic">ϵ</text>
<text x="978.58" y="383.52" font-size="19.5" stroke="#000" stroke-width="0.3">−</text>
<line x1="782.9" y1="418.34" x2="867.6" y2="418.34" stroke="#808080" stroke-width="4.2"/>
<text class="lg" x="880.9" y="425.64" xml:space="preserve">a=0.8, </text>
<text transform="translate(966.39,425.64) skewX(-7)" font-size="29" font-style="italic">ϵ</text>
<text x="978.58" y="431.84" font-size="19.5" stroke="#000" stroke-width="0.3">+</text>
</svg></body></html>
